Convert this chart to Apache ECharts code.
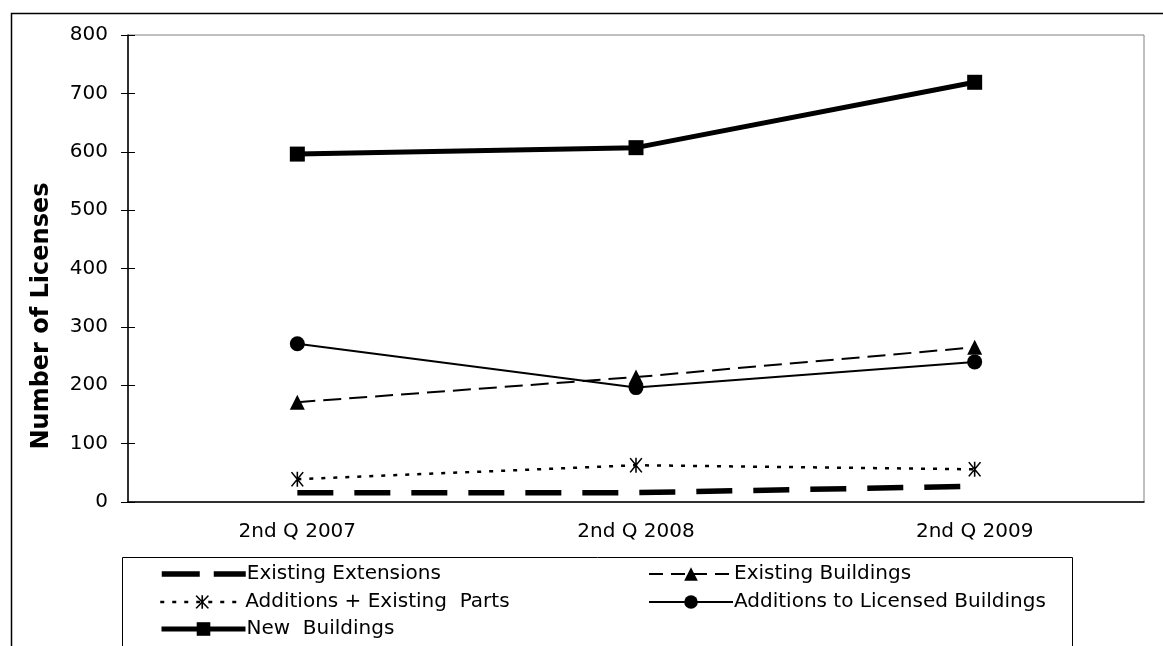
<!DOCTYPE html>
<html>
<head>
<meta charset="utf-8">
<script src="https://cdn.jsdelivr.net/npm/echarts@6/dist/echarts.min.js"></script>
<style>
html,body{margin:0;padding:0;background:#fff;}
#chart{width:1163px;height:646px;}
</style>
</head>
<body>
<div id="chart"></div>
<script>
const categories = ['2nd Q 2007', '2nd Q 2008', '2nd Q 2009'];
const existingExtensions = [16, 16, 27];
const existingBuildings = [171, 214, 265];
const additionsExistingParts = [39, 63, 56];
const additionsLicensed = [271, 196, 240];
const newBuildings = [596, 607, 719];
const yTicks = [0, 100, 200, 300, 400, 500, 600, 700, 800];
const yAxisTitle = 'Number of Licenses';

const FONT = '"DejaVu Sans", "Liberation Sans", Arial, sans-serif';
const asterisk = 'path://M4.4,0 L5.6,0 L5.6,12 L4.4,12 Z M0,0.6 L1,0 L10,11.4 L9,12 Z M9,0 L10,0.6 L1,12 L0,11.4 Z';

const chart = echarts.init(document.getElementById('chart'), null, {renderer: 'canvas'});

function leg(name, left, top, extra) {
  return Object.assign({
    data: [name], left: left, top: top, orient: 'horizontal',
    itemWidth: 84, itemHeight: 17, itemGap: 0, padding: 0,
    textStyle: {fontFamily: FONT, fontSize: 20, color: '#000', padding: [0, 0, 0, -4]},
    selectedMode: false
  }, extra || {});
}

const option = {
  backgroundColor: '#fff',
  animation: false,
  grid: {left: 128, right: 19, top: 35, bottom: 144, show: true, borderColor: '#808080', borderWidth: 1, containLabel: false},
  legend: [
    leg('Existing Extensions', 159, 564, {lineStyle: {width: 5.5, type: [38, 14], cap: 'butt'}, itemStyle: {opacity: 0}}),
    leg('Existing Buildings', 648, 564, {lineStyle: {width: 2, type: [14, 8]}}),
    leg('Additions + Existing  Parts', 159, 592, {lineStyle: {width: 2.5, type: [4, 8]}}),
    leg('Additions to Licensed Buildings', 648, 592, {lineStyle: {width: 2}}),
    leg('New  Buildings', 159, 619, {lineStyle: {width: 5}})
  ],
  graphic: [
    {type: 'rect', shape: {x: 11.5, y: 13.5, width: 1160, height: 640}, style: {fill: 'none', stroke: '#000', lineWidth: 1.5}, silent: true, z: -10},
    {type: 'rect', shape: {x: 122.5, y: 557.5, width: 950, height: 95}, style: {fill: 'none', stroke: '#000', lineWidth: 1}, silent: true, z: -5},
    {type: 'text', x: 42, y: 316, rotation: Math.PI / 2, silent: true,
     style: {text: yAxisTitle, fontFamily: FONT, fontSize: 24, fontWeight: 'bold', fill: '#000', align: 'center', verticalAlign: 'middle'}}
  ],
  xAxis: {
    type: 'category', data: categories, boundaryGap: true,
    axisLine: {lineStyle: {color: '#000', width: 1.5}},
    axisTick: {show: false},
    axisLabel: {fontFamily: FONT, fontSize: 20, color: '#000', margin: 20}
  },
  yAxis: [
    {
      type: 'value', min: 0, max: 800, interval: 100,
      axisLine: {show: true, lineStyle: {color: '#000', width: 1.5}},
      axisTick: {show: true, length: 7, lineStyle: {color: '#000'}},
      axisLabel: {fontFamily: FONT, fontSize: 20, color: '#000', margin: 20, formatter: v => yTicks.includes(v) ? String(v) : ''},
      splitLine: {show: false}
    },
    {
      type: 'value', min: 0, max: 800, interval: 100, position: 'left',
      axisLine: {show: false},
      axisTick: {show: true, inside: true, length: 7, lineStyle: {color: '#000'}},
      axisLabel: {show: false}, splitLine: {show: false}
    }
  ],
  series: [
    {
      name: 'Existing Extensions', type: 'line', data: existingExtensions, symbol: 'none',
      lineStyle: {color: '#000', width: 5.5, type: [36, 21], cap: 'butt'}, itemStyle: {color: '#000'}, z: 2
    },
    {
      name: 'Existing Buildings', type: 'line', data: existingBuildings, symbol: 'triangle', symbolSize: 15,
      lineStyle: {color: '#000', width: 2, type: [18, 8]}, itemStyle: {color: '#000'}, z: 3
    },
    {
      name: 'Additions + Existing  Parts', type: 'line', data: additionsExistingParts, symbol: asterisk, symbolSize: [13, 15],
      lineStyle: {color: '#000', width: 2.5, type: [4, 8]}, itemStyle: {color: '#000'}, z: 3
    },
    {
      name: 'Additions to Licensed Buildings', type: 'line', data: additionsLicensed, symbol: 'circle', symbolSize: 15,
      lineStyle: {color: '#000', width: 2}, itemStyle: {color: '#000'}, z: 4
    },
    {
      name: 'New  Buildings', type: 'line', data: newBuildings, symbol: 'rect', symbolSize: 15,
      lineStyle: {color: '#000', width: 5}, itemStyle: {color: '#000'}, z: 5
    }
  ]
};
chart.setOption(option);
</script>
</body>
</html>
